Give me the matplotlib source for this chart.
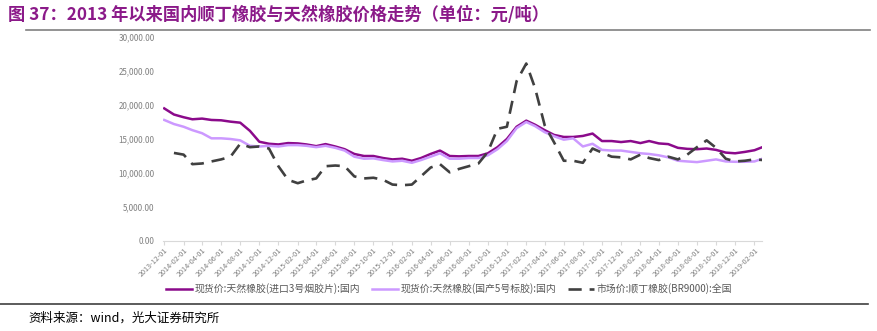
import numpy as np
import pandas as pd
import matplotlib
matplotlib.use("Agg")
import matplotlib.pyplot as plt
import matplotlib.dates as mdates
from matplotlib.ticker import FuncFormatter

plt.rcParams['font.family'] = ['Noto Sans CJK SC', 'DejaVu Sans']

dates = pd.date_range("2013-12-01", periods=64, freq="MS")

# 现货价:天然橡胶(进口3号烟胶片):国内
rss3 = [19500, 18600, 18200, 17900, 18000, 17800, 17750, 17550, 17400, 16200,
        14600, 14300, 14200, 14400, 14350, 14200, 13950, 14250, 13900, 13500,
        12800, 12500, 12500, 12200, 12000, 12100, 11800, 12200, 12800, 13300,
        12500, 12450, 12500, 12500, 12900, 13800, 15000, 16800, 17700, 17100,
        16300, 15600, 15300, 15300, 15450, 15800, 14700, 14700, 14550, 14700,
        14400, 14700, 14350, 14250, 13700, 13550, 13500, 13600, 13400, 13000,
        12900, 13100, 13350, 13850]

# 现货价:天然橡胶(国产5号标胶):国内
scr5 = [17800, 17200, 16800, 16300, 15850, 15100, 15100, 15000, 14800, 14000,
        13900, 14000, 13900, 14100, 14100, 14000, 13800, 14000, 13700, 13300,
        12400, 12100, 12150, 11900, 11700, 11800, 11500, 11900, 12400, 12900,
        12100, 12100, 12200, 12200, 12600, 13500, 14700, 16600, 17500, 16900,
        16000, 15400, 14900, 15100, 13900, 14300, 13400, 13300, 13300, 13100,
        12900, 12800, 12600, 12300, 11800, 11700, 11600, 11800, 12000, 11700,
        11650, 11650, 11700, 12150]

# 市场价:顺丁橡胶(BR9000):全国
br9000 = [np.nan, 12950, 12700, 11300, 11400, 11700, 12000, 12400, 14300, 13800,
          13900, 13600, 11000, 9000, 8500, 8900, 9200, 11000, 11100, 11000,
          9500, 9200, 9300, 9000, 8300, 8200, 8300, 9500, 10800, 11300,
          10100, 10600, 11000, 11400, 13100, 16500, 16800, 23500, 26100, 22500,
          17000, 14500, 11800, 11800, 11500, 13600, 13000, 12400, 12300, 12000,
          12700, 12200, 11900, 12400, 12000, 12700, 13800, 14800, 13700, 12100,
          11700, 11800, 12000, 11900]

labels = ["现货价:天然橡胶(进口3号烟胶片):国内",
          "现货价:天然橡胶(国产5号标胶):国内",
          "市场价:顺丁橡胶(BR9000):全国"]

fig = plt.figure(figsize=(8.77, 3.31), dpi=100)
ax = fig.add_axes([163 / 877, 1 - 241 / 331, (762 - 163) / 877, 204 / 331])

ax.plot(dates, rss3, color="#8B0A8B", lw=1.8, label=labels[0])
ax.plot(dates, scr5, color="#CC99FF", lw=1.8, label=labels[1])
ax.plot(dates, br9000, color="#404040", lw=1.9, ls=(0, (5, 3)), label=labels[2])

ax.set_ylim(0, 30000)
ax.set_yticks(np.arange(0, 30001, 5000))
ax.yaxis.set_major_formatter(FuncFormatter(lambda v, p: f"{v:,.2f}"))
ax.set_xlim(dates[0] - pd.Timedelta(days=4), pd.Timestamp("2019-02-25"))
ax.xaxis.set_major_formatter(mdates.DateFormatter("%Y-%m-%d"))
ax.set_xticks(pd.date_range("2013-12-01", "2019-02-01", freq="2MS"))

for s in ["top", "right", "left"]:
    ax.spines[s].set_visible(False)
ax.spines["bottom"].set_color("#D9D9D9")
ax.tick_params(axis="y", length=0, labelsize=5.8, labelcolor="#7F7F7F", pad=6)
ax.tick_params(axis="x", length=3, color="#D9D9D9", labelsize=5.2,
               labelcolor="#7F7F7F", pad=1)
plt.setp(ax.get_xticklabels(), rotation=45, ha="right", rotation_mode="anchor")

leg = fig.legend(loc="center left", bbox_to_anchor=(162 / 877, 1 - 289 / 331), ncol=3,
                 frameon=False, fontsize=7.1, handlelength=2.6, columnspacing=1.2,
                 handletextpad=0.3, borderaxespad=0)
for t in leg.get_texts():
    t.set_color("#595959")

fig.text(8 / 877, 1 - 15 / 331, "图 37：2013 年以来国内顺丁橡胶与天然橡胶价格走势（单位：元/吨）",
         color="#8B1A89", fontsize=12.4, fontweight="bold", va="center", ha="left")
fig.add_artist(plt.Line2D([26 / 877, 870 / 877], [1 - 30 / 331, 1 - 30 / 331],
                          color="#808080", lw=1.2))
fig.add_artist(plt.Line2D([0, 868 / 877], [1 - 304 / 331, 1 - 304 / 331],
                          color="#404040", lw=1.2))
fig.text(28 / 877, 1 - 318 / 331, "资料来源：wind，光大证券研究所",
         color="black", fontsize=9, va="center", ha="left")

fig.savefig("out.png", dpi=100)
